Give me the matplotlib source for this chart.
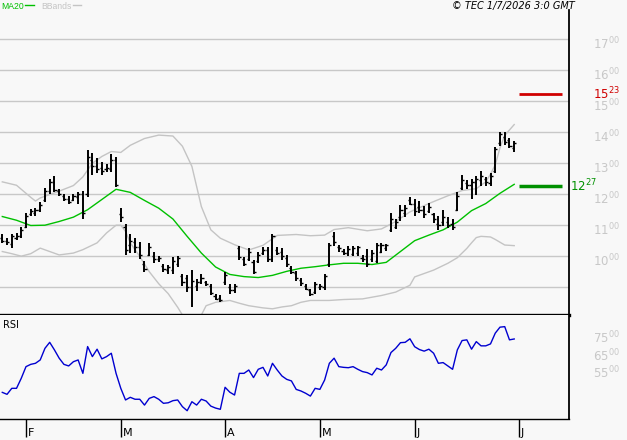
import numpy as np
import matplotlib
matplotlib.use("Agg")
import matplotlib.pyplot as plt
import matplotlib.transforms as mtransforms

# daily bars (index 0 = first bar on the left)
high = [1070, 1059, 1072, 1075, 1095, 1141, 1152, 1154, 1174, 1220, 1250, 1259, 1217, 1201, 1193, 1201,
        1207, 1212, 1343, 1332, 1318, 1305, 1299, 1330, 1321, 1157, 1103, 1072, 1059, 1045, 986, 1043,
        1015, 1001, 975, 972, 997, 1001, 944, 939, 955, 925, 942, 920, 911, 879, 876, 950,
        911, 911, 1032, 997, 1026, 988, 1015, 1028, 1029, 1073, 1029, 1026, 1004, 969, 953, 928,
        909, 895, 917, 911, 942, 1043, 1078, 1037, 1023, 1032, 1032, 1032, 1004, 1023, 1021, 1043,
        1043, 1040, 1141, 1119, 1165, 1165, 1192, 1185, 1179, 1161, 1172, 1141, 1130, 1150, 1128, 1119,
        1207, 1261, 1245, 1248, 1259, 1274, 1256, 1267, 1354, 1401, 1401, 1381, 1373]
low = [1043, 1037, 1026, 1053, 1059, 1092, 1130, 1130, 1143, 1174, 1201, 1207, 1193, 1179, 1168, 1179,
       1168, 1119, 1190, 1261, 1267, 1261, 1272, 1272, 1223, 1110, 1004, 1010, 1010, 990, 950, 999,
       979, 982, 950, 944, 944, 966, 904, 884, 835, 887, 911, 903, 873, 857, 851, 906,
       879, 881, 988, 968, 983, 942, 977, 1004, 982, 982, 1004, 988, 966, 944, 920, 904,
       890, 870, 879, 890, 892, 966, 1032, 1015, 1004, 1001, 1001, 1001, 982, 966, 982, 977,
       1010, 1018, 1079, 1089, 1114, 1125, 1165, 1130, 1139, 1122, 1139, 1108, 1086, 1097, 1092, 1086,
       1146, 1215, 1217, 1185, 1198, 1226, 1228, 1226, 1267, 1357, 1360, 1349, 1336]
opn = [1060, 1050, 1040, 1060, 1065, 1095, 1135, 1140, 1150, 1180, 1210, 1240, 1212, 1195, 1185, 1182,
       1190, 1200, 1200, 1310, 1290, 1285, 1280, 1280, 1310, 1135, 1095, 1035, 1045, 1030, 975, 1005,
       1000, 990, 968, 955, 955, 975, 935, 930, 900, 905, 915, 915, 905, 870, 865, 915,
       900, 890, 1025, 990, 990, 980, 985, 1010, 1020, 990, 1020, 1015, 995, 962, 945, 922,
       905, 890, 885, 900, 900, 975, 1065, 1030, 1018, 1010, 1008, 1010, 995, 1000, 990, 985,
       1015, 1025, 1085, 1095, 1125, 1140, 1180, 1170, 1160, 1150, 1145, 1135, 1105, 1110, 1110, 1105,
       1150, 1220, 1235, 1230, 1240, 1245, 1250, 1235, 1275, 1365, 1385, 1375, 1350]
close = [1050, 1045, 1065, 1065, 1085, 1130, 1145, 1148, 1165, 1210, 1240, 1215, 1200, 1185, 1175, 1195,
         1200, 1140, 1320, 1290, 1280, 1275, 1285, 1310, 1230, 1125, 1020, 1050, 1030, 1005, 960, 1030,
         990, 995, 960, 965, 985, 995, 915, 900, 920, 915, 930, 910, 880, 862, 858, 940,
         890, 905, 998, 975, 1015, 950, 1005, 1020, 990, 1065, 1010, 1000, 975, 950, 930, 912,
         895, 878, 910, 905, 935, 1035, 1045, 1025, 1010, 1022, 1025, 1028, 990, 975, 1010, 1035,
         1035, 1035, 1120, 1110, 1150, 1155, 1170, 1145, 1150, 1135, 1160, 1120, 1100, 1125, 1100, 1095,
         1195, 1245, 1230, 1240, 1250, 1260, 1240, 1260, 1345, 1395, 1370, 1355, 1365]

# MA20 and Bollinger bands (bar index, value)
ma_idx = [0, 3, 6, 9, 12, 15, 18, 21, 24, 27, 30, 33, 36, 39, 42, 45, 48, 51, 54, 57, 60, 63, 66,
          69, 72, 75, 78, 81, 84, 87, 90, 93, 96, 99, 102, 105, 108]
ma_val = [1128, 1116, 1099, 1100, 1112, 1126, 1150, 1183, 1216, 1206, 1180, 1155, 1120, 1064, 1010,
          965, 941, 934, 931, 938, 951, 961, 966, 972, 977, 977, 973, 980, 1015, 1050, 1068, 1085,
          1110, 1147, 1170, 1203, 1232]
ub_idx = [0, 3, 6, 7, 8, 12, 15, 17, 19, 21, 23, 25, 27, 30, 33, 36, 38, 40, 42, 44, 46, 49, 52,
          55, 58, 62, 65, 68, 70, 73, 77, 80, 83, 86, 90, 94, 97, 100, 102, 103, 104, 105, 106, 108]
ub_val = [1240, 1229, 1190, 1178, 1188, 1210, 1228, 1256, 1300, 1322, 1338, 1335, 1358, 1380, 1391,
          1388, 1355, 1290, 1160, 1085, 1058, 1037, 1020, 1035, 1067, 1070, 1066, 1068, 1086, 1092,
          1082, 1088, 1112, 1143, 1170, 1195, 1212, 1218, 1240, 1265, 1295, 1350, 1390, 1425]
lb_idx = [0, 2, 4, 6, 8, 10, 12, 15, 17, 20, 22, 24, 25, 26, 27, 29, 31, 33, 35, 37, 38, 40, 42,
          43, 45, 48, 50, 52, 55, 57, 59, 61, 63, 65, 69, 72, 76, 80, 83, 86, 87, 89, 91, 94, 96,
          98, 99, 100, 101, 103, 104, 106, 108]
lb_val = [1015, 1008, 1000, 1008, 1026, 1015, 1004, 1010, 1021, 1043, 1075, 1100, 1100, 1080, 1043,
          999, 950, 911, 879, 835, 810, 780, 810, 840, 851, 857, 848, 840, 833, 830, 836, 840, 851,
          857, 857, 860, 862, 873, 884, 906, 933, 944, 955, 977, 995, 1025, 1043, 1060, 1064, 1062,
          1054, 1036, 1034]

rsi = [44.1, 43.0, 46.4, 46.4, 52.1, 58.7, 60.0, 60.6, 62.5, 69.1, 72.5, 68.2, 63.5, 60.0, 59.1, 61.5,
       62.5, 54.9, 70.1, 64.4, 68.6, 63.1, 64.4, 66.3, 54.9, 46.4, 39.8, 41.3, 40.2, 40.2, 36.9, 40.7,
       41.7, 40.2, 37.9, 38.2, 39.4, 39.8, 36.0, 33.7, 38.8, 36.9, 40.2, 39.2, 36.3, 35.2, 34.5, 47.0,
       44.2, 42.6, 54.9, 54.9, 56.8, 52.5, 57.2, 58.3, 53.4, 60.6, 56.8, 53.4, 51.5, 50.6, 45.8, 44.9,
       43.6, 42.0, 46.4, 45.8, 51.1, 60.6, 63.5, 58.7, 58.3, 58.1, 58.7, 57.2, 55.9, 55.3, 54.0, 57.8,
       56.8, 59.7, 66.7, 69.1, 72.3, 72.5, 74.5, 70.0, 68.4, 67.5, 68.6, 66.3, 60.6, 61.0, 59.1, 57.2,
       68.2, 73.5, 73.9, 68.6, 72.9, 70.5, 70.5, 71.6, 77.7, 81.1, 81.4, 73.9, 74.4]

month_pos = [5, 25, 47, 67, 87, 109]
month_lbl = ["F", "M", "A", "M", "J", "J"]
price_ticks = [1000, 1100, 1200, 1300, 1400, 1500, 1600, 1700]
rsi_ticks = [75, 65, 55]
resistance = 1523
support = 1227

BG = "#f8f8f8"
GRID = "#c8c8c8"

fig = plt.figure(figsize=(6.27, 4.40), dpi=100, facecolor=BG)
W, H = 627.0, 440.0
ax = fig.add_axes([0, 1 - 315 / H, 569 / W, 305 / H], facecolor=BG)
ax2 = fig.add_axes([0, 1 - 419 / H, 569 / W, 104 / H], facecolor=BG)

idx = np.arange(len(high))
xlim = (-0.485, 119.56)

# price panel
for p in [900] + price_ticks:
    ax.axhline(p, color=GRID, lw=1.0, zorder=0)
ax.plot(ub_idx, ub_val, color="#c4c4c4", lw=1.0, zorder=1)
ax.plot(lb_idx, lb_val, color="#c4c4c4", lw=1.0, zorder=1)
ax.plot(ma_idx, ma_val, color="#00c000", lw=1.0, zorder=2)
ax.vlines(idx, low, high, color="black", lw=1.4, zorder=3)
ax.hlines(opn, idx - 0.45, idx, color="black", lw=1.0, zorder=3)
ax.hlines(close, idx, idx + 0.45, color="black", lw=1.0, zorder=3)

ax.hlines(resistance, 109, 118.1, color="#d00000", lw=2.0)
ax.hlines(support, 109, 118.1, color="#009000", lw=2.5)

ax.set_xlim(*xlim)
ax.set_ylim(810, 1795)
ax.set_xticks([])
ax.set_yticks([])
for s in ["left", "top"]:
    ax.spines[s].set_visible(False)
ax.spines["bottom"].set_linewidth(2.4)
ax.spines["right"].set_linewidth(1.3)

tr = mtransforms.blended_transform_factory(ax.transAxes, ax.transData)
down = mtransforms.ScaledTranslation(0, -5 / 100, fig.dpi_scale_trans)
for p in price_ticks:
    s = str(p)
    ax.text(593 / 569, p, s[:2] + "$^{" + s[2:] + "}$", transform=tr + down, color=GRID,
            fontsize=8.5, va="center", ha="left", clip_on=False)
s = str(resistance)
ax.text(593 / 569, resistance, s[:2] + "$^{" + s[2:] + "}$", transform=tr, color="#d00000",
        fontsize=8.5, va="center", ha="left", clip_on=False)
s = str(support)
ax.text(570.5 / 569, support, s[:2] + "$^{" + s[2:] + "}$", transform=tr, color="#009000",
        fontsize=8.5, va="center", ha="left", clip_on=False)

# legend / header
fig.text(1 / W, 1 - 9 / H, "MA20", color="#00c000", fontsize=6.2, family="Liberation Sans",
         va="baseline", ha="left")
fig.add_artist(plt.Line2D([25 / W, 34 / W], [1 - 5 / H, 1 - 5 / H], color="#00c000", lw=1))
fig.text(41 / W, 1 - 9 / H, "BBands", color="#c4c4c4", fontsize=6.2, family="Liberation Sans",
         va="baseline", ha="left")
fig.add_artist(plt.Line2D([73 / W, 81 / W], [1 - 5 / H, 1 - 5 / H], color="#c4c4c4", lw=1))
fig.text(575 / W, 1 - 9 / H, "© TEC 1/7/2026 3:0 GMT", color="black", fontsize=7,
         style="italic", va="baseline", ha="right")

# RSI panel
ax2.plot(idx, rsi, color="#0000d0", lw=1.0)
ax2.set_xlim(*xlim)
ax2.set_ylim(29, 88)
ax2.set_yticks([])
for s in ["left", "top"]:
    ax2.spines[s].set_visible(False)
ax2.spines["right"].set_linewidth(1.3)
ax2.spines["bottom"].set_linewidth(1.0)
ax2.set_xticks(month_pos)
ax2.set_xticklabels([])
ax2.tick_params(axis="x", direction="out", length=13, width=1.0, color="black")
trx = mtransforms.blended_transform_factory(ax2.transData, ax2.transAxes)
for m, l in zip(month_pos, month_lbl):
    ax2.text(m + 0.35, -0.13, l, transform=trx, fontsize=8, va="center", ha="left",
             clip_on=False)
ax2.text(0.005, 0.9, "RSI", transform=ax2.transAxes, fontsize=7, va="center", ha="left")
tr2 = mtransforms.blended_transform_factory(ax2.transAxes, ax2.transData)
for r in rsi_ticks:
    ax2.text(593 / 569, r, str(r) + "$^{00}$", transform=tr2, color=GRID, fontsize=8.5,
             va="center", ha="left", clip_on=False)

fig.savefig("out.png", dpi=100, facecolor=BG)
